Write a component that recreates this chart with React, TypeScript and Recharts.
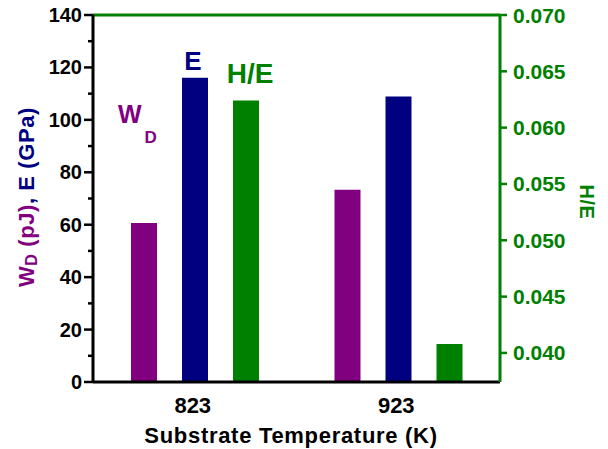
import React from 'react';
import { BarChart, Bar, XAxis, YAxis, ReferenceLine } from 'recharts';

const categories = ['823', '923'];
const wdValues = [60.7, 73.3];
const eValues = [116.1, 108.9];
const heValues = [0.0624, 0.0408];
const leftTicks = [0, 10, 20, 30, 40, 50, 60, 70, 80, 90, 100, 110, 120, 130, 140];
const rightTicks = [0.04, 0.045, 0.05, 0.055, 0.06, 0.065, 0.07];

const PURPLE = '#800080';
const NAVY = '#000080';
const GREEN = '#008000';
const FONT = '"Liberation Sans", Arial, Helvetica, sans-serif';

const data = categories.map((c, i) => ({
  temp: c,
  wd: wdValues[i],
  e: eValues[i],
  he: heValues[i],
}));

// left ticks: long ones with labels every 20, short ones in between
const LeftTick = (props: any) => {
  const { x, y, payload } = props;
  const axisX = x + 8 + 3;
  const major = payload.value % 20 === 0;
  return (
    <g>
      <line x1={axisX - (major ? 9 : 5)} x2={axisX} y1={y} y2={y} stroke="#000" strokeWidth={2.5} />
      {major && (
        <text x={x} y={y} textAnchor="end" dominantBaseline="central" fontFamily={FONT}
          fontWeight="bold" fontSize={20} fill="#000">
          {payload.value}
        </text>
      )}
    </g>
  );
};

const RightTick = (props: any) => {
  const { x, y, payload } = props;
  return (
    <text x={x} y={y} textAnchor="start" dominantBaseline="central" fontFamily={FONT}
      fontWeight="bold" fontSize={21} fill={GREEN}>
      {Number(payload.value).toFixed(3)}
    </text>
  );
};

const BottomTick = (props: any) => {
  const { x, y, payload } = props;
  return (
    <text x={x - 2} y={y + 23} textAnchor="middle" dominantBaseline="central" fontFamily={FONT}
      fontWeight="bold" fontSize={22} fill="#000">
      {payload.value}
    </text>
  );
};

const LeftLabel = () => (
  <text x={26} y={197} transform="rotate(-90, 26, 197)" textAnchor="middle" dominantBaseline="central"
    fontFamily={FONT} fontWeight="bold" fontSize={22} letterSpacing={0.6}>
    <tspan fill={PURPLE}>W</tspan>
    <tspan fill={PURPLE} fontSize={16} dy={5}>D</tspan>
    <tspan fill={PURPLE} dy={-5}> (pJ)</tspan>
    <tspan fill={NAVY}>, E (GPa)</tspan>
  </text>
);

const RightLabel = () => (
  <text x={587} y={202} transform="rotate(90, 587, 202)" textAnchor="middle" dominantBaseline="central"
    fontFamily={FONT} fontWeight="bold" fontSize={20} letterSpacing={0.5} fill={GREEN}>
    H/E
  </text>
);

const XLabel = () => (
  <text x={291} y={435} textAnchor="middle" dominantBaseline="central" fontFamily={FONT}
    fontWeight="bold" fontSize={22} letterSpacing={0.7} fill="#000">
    Substrate Temperature (K)
  </text>
);

const WdNote = (props: any) => {
  const { x, y, index } = props;
  if (index !== 0) return null;
  return (
    <text x={x - 13} y={y - 100} fontFamily={FONT} fontWeight="bold" fontSize={25} fill={PURPLE}>
      W<tspan fontSize={17} dx={3} dy={20}>D</tspan>
    </text>
  );
};

const ENote = (props: any) => {
  const { x, y, width, index } = props;
  if (index !== 0) return null;
  return (
    <text x={x + width / 2 - 2} y={y - 8} textAnchor="middle" fontFamily={FONT} fontWeight="bold"
      fontSize={26} fill={NAVY}>
      E
    </text>
  );
};

const HeNote = (props: any) => {
  const { x, y, width, index } = props;
  if (index !== 0) return null;
  return (
    <text x={x + width / 2 + 4} y={y - 18} textAnchor="middle" fontFamily={FONT} fontWeight="bold"
      fontSize={28} fill={GREEN}>
      H/E
    </text>
  );
};

export default function App() {
  return (
    <div style={{ position: 'absolute', left: 0, top: 0, width: 608, height: 449, background: '#fff' }}>
      <BarChart width={608} height={449} data={data} margin={{ top: 15, right: 0, bottom: 0, left: 0 }}
        barSize={26} barGap={25}>
        <XAxis dataKey="temp" height={67} axisLine={{ stroke: '#000', strokeWidth: 3 }} tickLine={false}
          tickSize={0} tickMargin={0} tick={<BottomTick />} label={<XLabel />} />
        <YAxis yAxisId="left" width={93} domain={[0, 140]} ticks={leftTicks} interval={0}
          tickSize={8} tickMargin={3} tickLine={false} tick={<LeftTick />}
          axisLine={{ stroke: '#000', strokeWidth: 3 }} label={<LeftLabel />} />
        <YAxis yAxisId="right" orientation="right" width={108} domain={[0.03742, 0.07]} ticks={rightTicks}
          interval={0} allowDataOverflow tickSize={7} tickMargin={6}
          tickLine={{ stroke: GREEN, strokeWidth: 2.5 }} tick={<RightTick />}
          axisLine={{ stroke: GREEN, strokeWidth: 3 }} label={<RightLabel />} />
        <ReferenceLine yAxisId="left" y={140} stroke={GREEN} strokeWidth={3} />
        <Bar yAxisId="left" dataKey="wd" fill={PURPLE} isAnimationActive={false} label={<WdNote />} />
        <Bar yAxisId="left" dataKey="e" fill={NAVY} isAnimationActive={false} label={<ENote />} />
        <Bar yAxisId="right" dataKey="he" fill={GREEN} isAnimationActive={false} label={<HeNote />} />
      </BarChart>
    </div>
  );
}
